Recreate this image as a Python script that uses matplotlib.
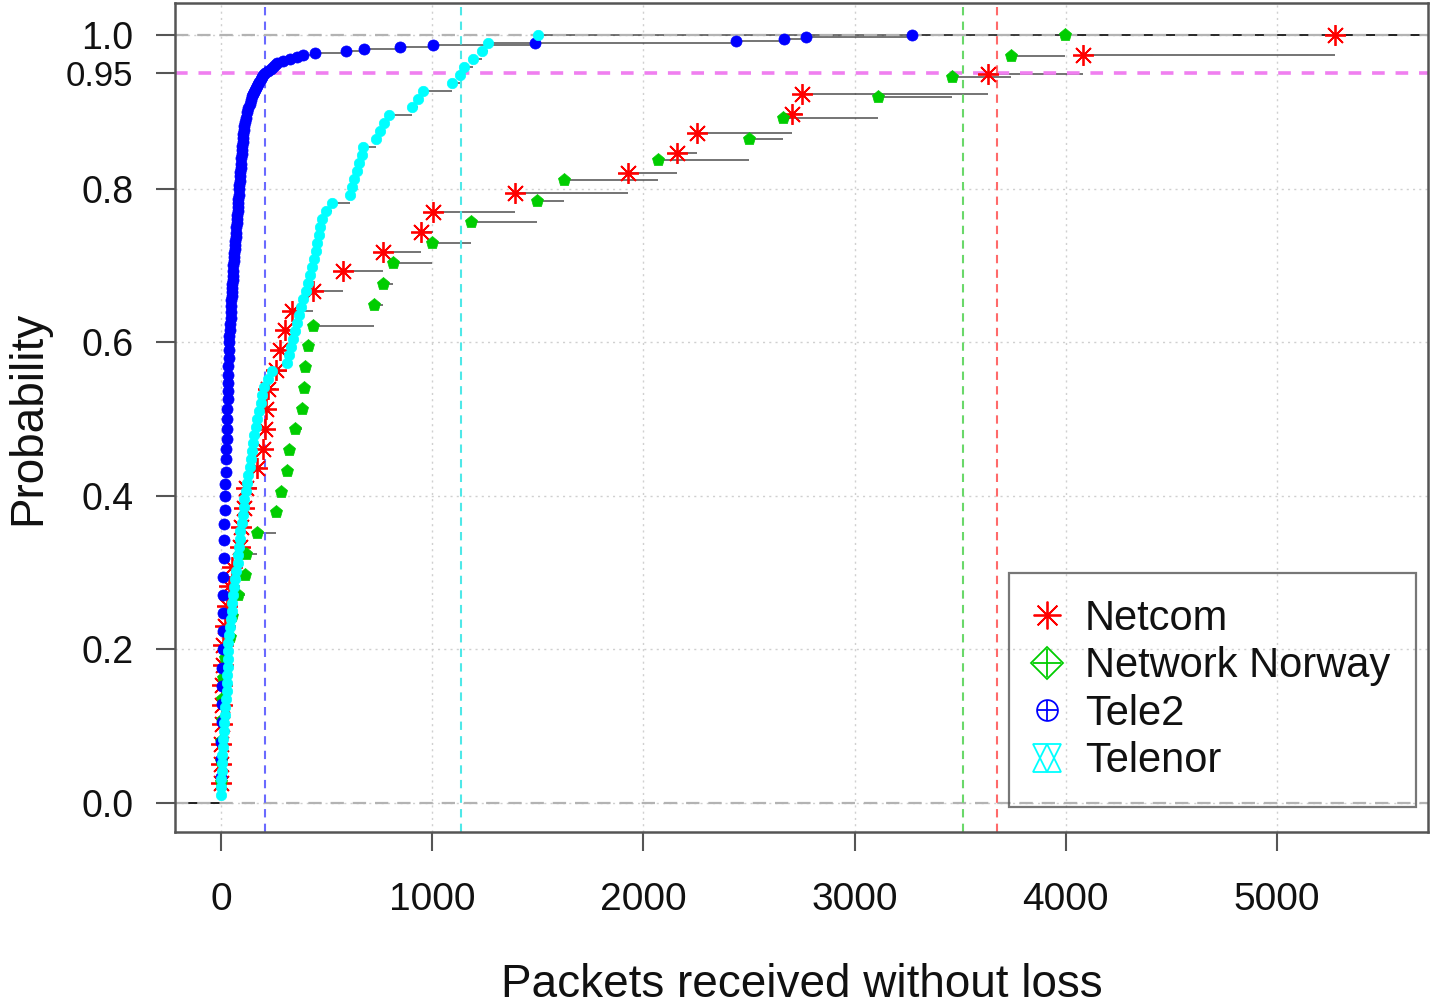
import numpy as np
import matplotlib
matplotlib.use('Agg')
import matplotlib.pyplot as plt
from matplotlib.lines import Line2D
from matplotlib.legend_handler import HandlerTuple

plt.rcParams['font.family'] = ['Liberation Sans', 'DejaVu Sans']

# ---------------- data (packets received without loss, per operator) ----------------
series_names = ['Netcom', 'Network Norway', 'Tele2', 'Telenor']

netcom_packets = [0, 1, 2, 3, 4, 6, 8, 10, 18, 28, 38, 52, 90, 95, 110, 116, 170, 199,
                  208, 215, 220, 260, 279, 303, 336, 435, 577, 767, 947, 1003, 1391,
                  1926, 2158, 2253, 2702, 2750, 3630, 4080, 5277]

network_norway_packets = [0, 1, 2, 3, 4, 10, 20, 43, 52, 80, 114, 118, 170, 260, 284,
                          312, 322, 350, 383, 393, 398, 412, 435, 724, 767, 814, 999,
                          1183, 1498, 1623, 2068, 2499, 2660, 3109, 3459, 3739, 3994]

# Tele2: distinct packet counts and how many runs gave each count
tele2_packets = [0, 1, 2, 3, 4, 5, 6, 7, 8, 9, 10, 11, 12, 13, 15, 17, 19, 20, 22, 23,
                 25, 26, 28, 29, 30, 31, 32, 33, 34, 35, 36, 37, 38, 40, 42, 44, 45, 46,
                 48, 49, 50, 52, 53, 54, 55, 56, 57, 58, 60, 62, 63, 65, 66, 68, 69, 70,
                 72, 74, 75, 77, 78, 80, 81, 82, 84, 85, 87, 88, 90, 91, 93, 94, 95, 97,
                 99, 100, 102, 104, 105, 108, 111, 115, 119, 125, 130, 135, 140, 145,
                 152, 158, 163, 167, 170, 176, 182, 188, 194, 200, 208, 222, 235, 245,
                 255, 265, 293, 327, 360, 388, 445, 592, 677, 847, 1003, 1486, 2437,
                 2665, 2769, 3270]
tele2_counts = [13, 9, 8, 10, 9, 9, 9, 9, 9, 9, 9, 9, 9, 9, 8, 7, 7, 6, 6, 6,
                5, 5, 5, 5, 5, 5, 4, 4, 4, 4, 4, 4, 4, 3, 3, 3, 3, 3,
                3, 3, 2, 2, 2, 2, 2, 2, 2, 3, 2, 2, 2, 2, 2, 2, 2, 2,
                3, 2, 2, 2, 2, 2, 2, 2, 2, 3, 2, 2, 2, 2, 2, 2, 3, 2,
                2, 2, 2, 2, 2, 2, 2, 2, 2, 3, 2, 2, 2, 2,
                1, 1, 1, 1, 1, 1, 1, 1, 1, 1, 1, 1, 1, 1,
                1, 1, 1, 1, 1, 1, 1, 1, 1, 1, 1, 1, 1,
                1, 1, 1]

telenor_packets = [0, 1, 2, 3, 5, 6, 8, 9, 12, 14,
                   17, 19, 22, 26, 28, 30, 32, 33, 34, 35,
                   38, 42, 45, 50, 54, 58, 62, 68, 72, 78,
                   82, 86, 90, 92, 98, 103, 107, 111, 118, 124,
                   130, 136, 140, 145, 151, 158, 165, 172, 180, 188,
                   196, 204, 220, 240, 310, 320, 330, 340, 350, 360,
                   370, 380, 390, 400, 410, 420, 430, 440, 448, 455,
                   462, 470, 480, 495, 525, 611, 620, 629, 644, 653,
                   667, 672, 734, 752, 771, 795, 904, 932, 956, 1093,
                   1131, 1150, 1193, 1236, 1264, 1500]

series_colors = ['#ff0000', '#00cd00', '#0000ff', '#00ffff']
quantile_colors = ['#ff6a6a', '#6ad86a', '#6a6aff', '#4fe8e8']

x_ticks = [0, 1000, 2000, 3000, 4000, 5000]
y_ticks = [0.0, 0.2, 0.4, 0.6, 0.8, 1.0]
y_tick_labels = ['0.0', '0.2', '0.4', '0.6', '0.8', '1.0']
level = 0.95

# ---------------- figure ----------------
W, H = 1431, 1005
fig = plt.figure(figsize=(W / 100, H / 100), dpi=100)
L, R, T, B = 175, 1428, 3, 832
ax = fig.add_axes([L / W, 1 - B / H, (R - L) / W, (B - T) / H])
xmin, xmax = -218, 5715
ymin, ymax = -0.0378, 1.0417
ax.set_xlim(xmin, xmax)
ax.set_ylim(ymin, ymax)

# grid
for xv in x_ticks:
    ax.axvline(xv, color='#d0d0d0', lw=1.0, ls=(0, (1.5, 3)), zorder=0)
for yv in y_ticks:
    ax.axhline(yv, color='#d0d0d0', lw=1.0, ls=(0, (1.5, 3)), zorder=0)

# ecdf data
all_values = [np.asarray(netcom_packets, float),
              np.asarray(network_norway_packets, float),
              np.repeat(np.asarray(tele2_packets, float), tele2_counts),
              np.asarray(telenor_packets, float)]

# 0/1 reference lines
ax.axhline(0, color='#b3b3b3', lw=1.6, ls=(0, (6, 4)), zorder=1.2)
ax.axhline(1, color='#b3b3b3', lw=1.6, ls=(0, (6, 4)), zorder=1.2)

marker_styles = [dict(marker=(8, 2, 0), ms=15, mew=1.3, mfc='none'),
                 dict(marker='p', ms=9.5, mew=0.5),
                 dict(marker='o', ms=8.0, mew=0.5),
                 dict(marker='o', ms=7.5, mew=0.5)]

for vals, col, ms in zip(all_values, series_colors, marker_styles):
    knots, cnt = np.unique(vals, return_counts=True)
    Fy = np.cumsum(cnt) / cnt.sum()
    starts = np.concatenate([[xmin], knots])
    ends = np.concatenate([knots, [xmax]])
    levels = np.concatenate([[0.0], Fy])
    ax.hlines(levels, starts, ends, colors='#222222', lw=1.1, alpha=0.8, zorder=1)
    ax.plot(knots, Fy, ls='none', color=col, mec=col, zorder=3, **ms)

# 95% level line
ax.axhline(level, color='#f07ff0', lw=2.6, ls=(0, (3.5, 3)), zorder=2)
# 95th percentile of each operator
for vals, qc in zip(all_values, quantile_colors):
    q = np.quantile(vals, level)
    ax.axvline(q, color=qc, lw=1.5, ls=(0, (4, 3)), zorder=2)

# frame
for sp in ax.spines.values():
    sp.set_color('#555555')
    sp.set_linewidth(1.8)

# ticks
ax.set_xticks(x_ticks)
ax.set_xticklabels([str(v) for v in x_ticks], fontsize=28)
ax.set_yticks(y_ticks + [level])
ax.set_yticklabels(y_tick_labels + ['0.95'])
for lab in ax.get_yticklabels():
    lab.set_fontsize(25 if lab.get_text() == '0.95' else 27)
ax.tick_params(axis='both', direction='out', length=14, width=1.5, color='#555555',
               labelcolor='#111111')
ax.tick_params(axis='x', pad=22)
ax.tick_params(axis='y', pad=16)

fig.text(802 / W, 1 - 985 / H, 'Packets received without loss', fontsize=33,
         ha='center', va='center', color='#111111')
fig.text(28 / W, 1 - 418 / H, 'Probability', fontsize=33, rotation=90,
         ha='center', va='center', color='#111111')

# legend
def mk(marker, col, ms, **kw):
    return Line2D([], [], ls='none', marker=marker, color=col, mec=col, mfc='none',
                  ms=ms, mew=1.3, **kw)

handles = [mk((8, 2, 0), series_colors[0], 20),
           (mk('D', series_colors[1], 16), mk('+', series_colors[1], 20)),
           (mk('o', series_colors[2], 15), mk('+', series_colors[2], 15)),
           (mk('^', series_colors[3], 20), mk('v', series_colors[3], 20))]
leg = ax.legend(handles, series_names, loc='lower right',
                bbox_to_anchor=(0.9904, 0.030), fontsize=30, frameon=True,
                fancybox=False, edgecolor='#555555', facecolor='none',
                handlelength=0.6, handletextpad=0.6, borderpad=0.62,
                labelspacing=0.18, borderaxespad=0,
                handler_map={tuple: HandlerTuple(ndivide=1)})
leg.get_frame().set_linewidth(1.6)
for t in leg.get_texts():
    t.set_color('#111111')

fig.savefig('out.png', dpi=100)
